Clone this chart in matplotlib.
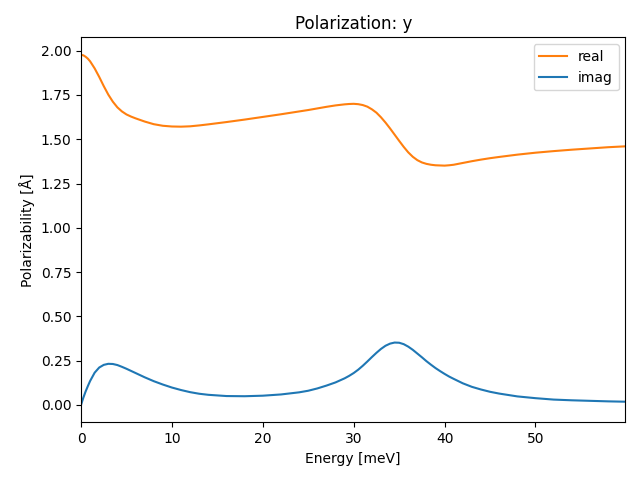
import matplotlib
matplotlib.use("Agg")
import matplotlib.pyplot as plt

# values
energy = [0, 0.25, 0.5, 0.75, 1, 1.5, 2, 2.5, 3, 3.5, 4, 4.5, 5, 5.5, 6, 7, 8, 9,
          10, 11, 12, 13, 14, 16, 18, 20, 22, 24, 25, 26, 27, 28, 29, 29.5, 30,
          30.5, 31, 31.5, 32, 32.5, 33, 33.5, 34, 34.5, 35, 35.5, 36, 36.5, 37,
          37.5, 38, 38.5, 39, 39.5, 40, 40.5, 41, 42, 43, 44, 45, 46, 48, 50, 52,
          54, 56, 58, 59.9]

pol_real = [1.976, 1.974, 1.966, 1.955, 1.940, 1.900, 1.852, 1.800, 1.752, 1.712,
            1.680, 1.657, 1.640, 1.628, 1.618, 1.600, 1.585, 1.576, 1.572, 1.571,
            1.573, 1.578, 1.584, 1.597, 1.611, 1.626, 1.641, 1.657, 1.665, 1.674,
            1.683, 1.691, 1.697, 1.699, 1.700, 1.698, 1.693, 1.684, 1.669, 1.650,
            1.624, 1.594, 1.561, 1.526, 1.491, 1.457, 1.426, 1.401, 1.382, 1.369,
            1.361, 1.356, 1.353, 1.352, 1.351, 1.353, 1.356, 1.366, 1.376, 1.385,
            1.393, 1.400, 1.413, 1.424, 1.433, 1.441, 1.448, 1.455, 1.460]

pol_imag = [0.000, 0.040, 0.075, 0.106, 0.135, 0.182, 0.211, 0.226, 0.232, 0.231,
            0.225, 0.215, 0.204, 0.192, 0.180, 0.156, 0.134, 0.115, 0.098, 0.084,
            0.072, 0.063, 0.057, 0.050, 0.049, 0.052, 0.059, 0.071, 0.080, 0.093,
            0.109, 0.127, 0.150, 0.164, 0.180, 0.199, 0.221, 0.245, 0.270, 0.294,
            0.316, 0.334, 0.346, 0.352, 0.351, 0.343, 0.329, 0.311, 0.290, 0.269,
            0.247, 0.227, 0.208, 0.191, 0.175, 0.160, 0.147, 0.122, 0.102, 0.087,
            0.074, 0.064, 0.048, 0.038, 0.030, 0.026, 0.023, 0.020, 0.018]

fig, ax = plt.subplots(figsize=(6.4, 4.8), dpi=100)
ax.plot(energy, pol_real, color='C1', label='real')
ax.plot(energy, pol_imag, color='C0', label='imag')
ax.set_xlim(0, energy[-1])
ax.set_title("Polarization: y")
ax.set_xlabel("Energy [meV]")
ax.set_ylabel("Polarizability [Å]")
ax.legend()

fig.subplots_adjust(left=0.1266, right=0.9773, bottom=0.120, top=0.922)
plt.savefig('out.png')
